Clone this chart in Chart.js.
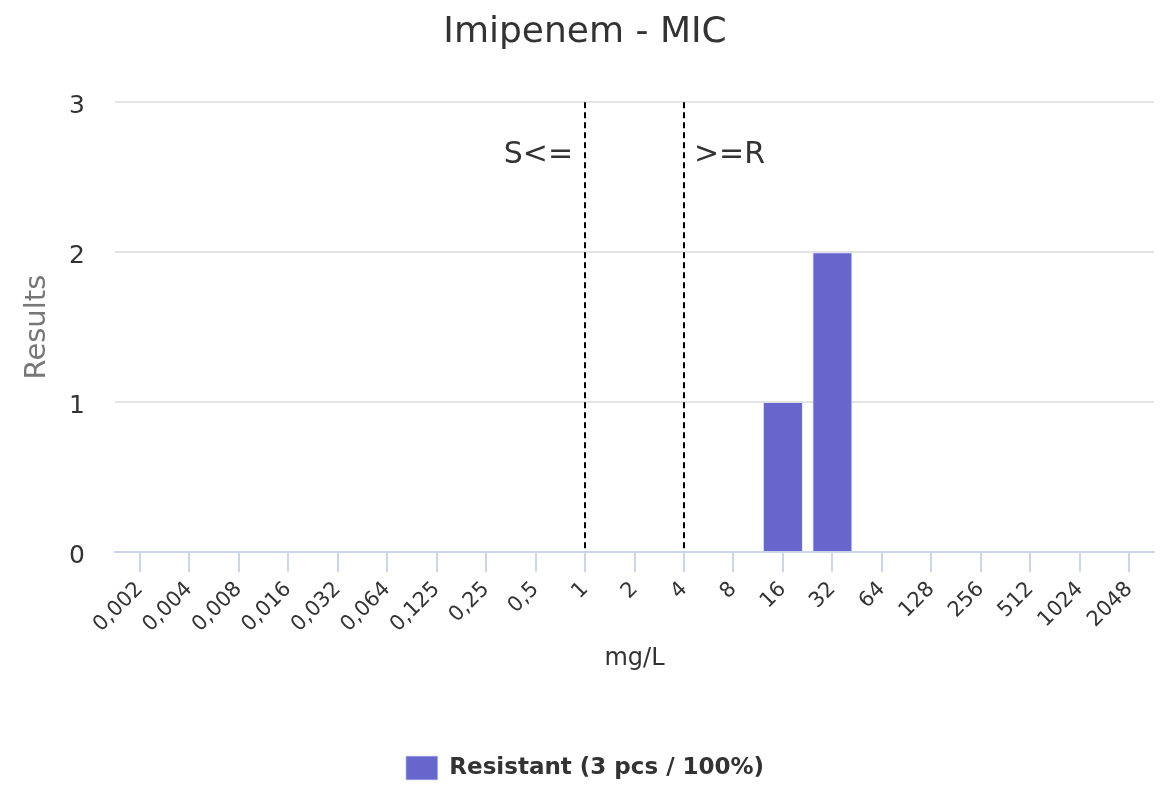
<!DOCTYPE html>
<html>
<head>
<meta charset="utf-8">
<script src="https://cdn.jsdelivr.net/npm/chart.js@4/dist/chart.umd.min.js"></script>
<style>
  html, body { margin: 0; padding: 0; background: #ffffff; }
  #wrap { width: 1170px; height: 792px; }
</style>
</head>
<body>
<div id="wrap"><canvas id="c" width="1170" height="792"></canvas></div>
<script>
// ---- Data ----
const chartTitle = 'Imipenem - MIC';
const categories = ['0,002','0,004','0,008','0,016','0,032','0,064','0,125','0,25','0,5','1','2','4','8','16','32','64','128','256','512','1024','2048'];
const resistant  = [0,0,0,0,0,0,0,0,0,0,0,0,0,1,2,0,0,0,0,0,0];
const seriesName = 'Resistant';
const yTicks = [0, 1, 2, 3];
const breakpointS = '1';   // S<=
const breakpointR = '4';   // >=R
const xTitle = 'mg/L';
const yTitle = 'Results';

const total = resistant.reduce((a, b) => a + b, 0);
const legendLabel = seriesName + ' (' + total + ' pcs / 100%)';

Chart.defaults.font.family = '"DejaVu Sans", sans-serif';
Chart.defaults.color = '#333333';

const breakpointPlugin = {
  id: 'breakpoints',
  afterDatasetsDraw(chart) {
    const {ctx, chartArea, scales} = chart;
    const x = scales.x;
    const xs = x.getPixelForValue(categories.indexOf(breakpointS));
    const xr = x.getPixelForValue(categories.indexOf(breakpointR));
    ctx.save();
    ctx.strokeStyle = '#000000';
    ctx.lineWidth = 2;
    ctx.setLineDash([6, 4]);
    [xs, xr].forEach(px => {
      ctx.beginPath();
      ctx.moveTo(Math.round(px), chartArea.top);
      ctx.lineTo(Math.round(px), chartArea.bottom);
      ctx.stroke();
    });
    ctx.setLineDash([]);
    ctx.fillStyle = '#333333';
    ctx.font = '30px "DejaVu Sans", sans-serif';
    ctx.textBaseline = 'middle';
    const ty = chartArea.top + 53;
    ctx.textAlign = 'right';
    ctx.fillText('S<=', xs - 12, ty);
    ctx.textAlign = 'left';
    ctx.fillText('>=R', xr + 10, ty);
    ctx.restore();
  }
};

new Chart(document.getElementById('c'), {
  type: 'bar',
  data: {
    labels: categories,
    datasets: [{
      label: legendLabel,
      data: resistant,
      backgroundColor: '#6666cc',
      borderColor: 'rgba(220,220,245,0.8)',
      borderWidth: 1,
      barPercentage: 0.81,
      categoryPercentage: 1.0
    }]
  },
  options: {
    responsive: false,
    animation: false,
    devicePixelRatio: 1,
    layout: { padding: { left: 0, right: 0, top: 0, bottom: 2 } },
    plugins: {
      title: {
        display: true,
        text: chartTitle,
        color: '#333333',
        font: { size: 36, weight: 'normal' },
        padding: { top: 11, bottom: 48 }
      },
      legend: {
        display: true,
        position: 'bottom',
        labels: {
          boxWidth: 32,
          boxHeight: 24,
          color: '#333333',
          font: { size: 23, weight: 'bold' },
          padding: 10
        }
      },
      tooltip: { enabled: false }
    },
    scales: {
      x: {
        offset: true,
        grid: {
          offset: false,
          drawOnChartArea: false,
          drawTicks: true,
          tickLength: 20,
          color: '#ccd6eb',
          lineWidth: 2
        },
        border: { display: true, color: '#ccd6eb', width: 2 },
        ticks: {
          autoSkip: false,
          minRotation: 45,
          maxRotation: 45,
          padding: 5,
          color: '#333333',
          font: { size: 21 }
        },
        title: {
          display: true,
          text: xTitle,
          color: '#333333',
          font: { size: 24 },
          padding: { top: 0, bottom: 73 }
        },
        afterFit(scale) { scale.height = 194; }
      },
      y: {
        min: 0,
        max: 3,
        afterBuildTicks(scale) { scale.ticks = yTicks.map(v => ({ value: v })); },
        grid: {
          drawTicks: false,
          color: ctx => (ctx.tick && ctx.tick.value === 0) ? '#ccd6eb' : '#e3e3e3',
          lineWidth: 2
        },
        border: { display: false },
        ticks: {
          padding: 30,
          labelOffset: 4,
          color: '#333333',
          font: { size: 25 }
        },
        title: {
          display: true,
          text: yTitle,
          color: '#777777',
          font: { size: 29 },
          padding: { top: 20, bottom: 0 }
        },
        afterFit(scale) { scale.width = 115; }
      },
      yRight: {
        position: 'right',
        display: true,
        grid: { display: false, drawTicks: false },
        border: { display: false },
        ticks: { display: false },
        afterFit(scale) { scale.width = 16; }
      }
    }
  },
  plugins: [breakpointPlugin]
});
</script>
</body>
</html>
